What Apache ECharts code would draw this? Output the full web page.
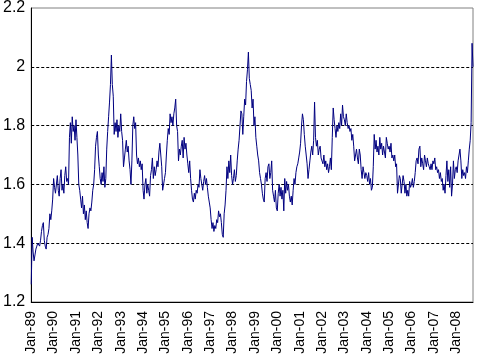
<!DOCTYPE html>
<html>
<head>
<meta charset="utf-8">
<script src="https://cdn.jsdelivr.net/npm/echarts@6/dist/echarts.min.js"></script>
<style>html,body{margin:0;padding:0;background:#fff}#c{width:478px;height:360px}</style>
</head>
<body>
<div id="c"></div>
<script>
// Tick labels on the category axis (one per January)
var yearLabels = ['Jan-89','Jan-90','Jan-91','Jan-92','Jan-93','Jan-94','Jan-95','Jan-96','Jan-97','Jan-98','Jan-99','Jan-00','Jan-01','Jan-02','Jan-03','Jan-04','Jan-05','Jan-06','Jan-07','Jan-08'];
var yTicks = [1.2, 1.4, 1.6, 1.8, 2.0, 2.2];

var v1989 = [1.26,1.42,1.37,1.34,1.36,1.38,1.39,1.40,1.40,1.39,1.41,1.44,1.46,1.47,1.41,1.39,1.38,1.42,1.43,1.45,1.50,1.48,1.51,1.55];
var v1990 = [1.62,1.59,1.57,1.60,1.63,1.58,1.56,1.62,1.65,1.58,1.60,1.57,1.63,1.66,1.61,1.62,1.60,1.76,1.81,1.74,1.83,1.78,1.80,1.75];
var v1991 = [1.82,1.76,1.70,1.60,1.58,1.55,1.52,1.56,1.50,1.53,1.48,1.51,1.47,1.45,1.50,1.52,1.51,1.54,1.58,1.60,1.65,1.73,1.76,1.78];
var v1992 = [1.70,1.66,1.62,1.60,1.64,1.61,1.66,1.59,1.62,1.72,1.78,1.83,1.88,1.94,2.04,1.94,1.90,1.77,1.81,1.78,1.82,1.76,1.80,1.78];
var v1993 = [1.84,1.78,1.75,1.66,1.69,1.72,1.75,1.71,1.73,1.68,1.65,1.60,1.68,1.80,1.83,1.79,1.81,1.70,1.67,1.69,1.66,1.68,1.65,1.67];
var v1994 = [1.58,1.55,1.60,1.62,1.57,1.60,1.58,1.56,1.63,1.65,1.69,1.62,1.66,1.63,1.65,1.68,1.66,1.71,1.74,1.70,1.66,1.58,1.60,1.62];
var v1995 = [1.64,1.70,1.75,1.79,1.77,1.84,1.81,1.83,1.80,1.84,1.86,1.89,1.80,1.78,1.68,1.72,1.70,1.73,1.75,1.69,1.76,1.72,1.74,1.70];
var v1996 = [1.67,1.64,1.68,1.62,1.58,1.55,1.54,1.57,1.55,1.58,1.57,1.60,1.59,1.65,1.62,1.60,1.58,1.61,1.63,1.60,1.62,1.59,1.56,1.54];
var v1997 = [1.52,1.48,1.45,1.47,1.44,1.46,1.45,1.48,1.47,1.51,1.49,1.50,1.47,1.43,1.42,1.50,1.53,1.58,1.66,1.62,1.68,1.64,1.70,1.63];
var v1998 = [1.60,1.62,1.65,1.61,1.63,1.68,1.72,1.75,1.80,1.85,1.84,1.77,1.83,1.89,1.87,1.95,1.99,2.05,1.96,1.94,1.92,1.86,1.89,1.80];
var v1999 = [1.83,1.76,1.73,1.70,1.68,1.64,1.62,1.60,1.57,1.55,1.54,1.62,1.64,1.61,1.66,1.67,1.62,1.64,1.68,1.58,1.56,1.54,1.58,1.52];
var v2000 = [1.51,1.57,1.60,1.56,1.59,1.55,1.58,1.51,1.62,1.57,1.61,1.58,1.60,1.56,1.54,1.56,1.53,1.58,1.62,1.60,1.64,1.66,1.67,1.69];
var v2001 = [1.71,1.74,1.80,1.84,1.82,1.77,1.73,1.70,1.67,1.62,1.65,1.68,1.71,1.73,1.70,1.75,1.88,1.76,1.73,1.75,1.70,1.72,1.73,1.69];
var v2002 = [1.69,1.67,1.70,1.66,1.68,1.65,1.67,1.64,1.66,1.69,1.65,1.76,1.86,1.82,1.79,1.76,1.80,1.78,1.81,1.79,1.84,1.80,1.87,1.83];
var v2003 = [1.82,1.80,1.84,1.81,1.79,1.80,1.78,1.79,1.75,1.77,1.73,1.68,1.70,1.72,1.69,1.67,1.72,1.70,1.65,1.62,1.66,1.64,1.62,1.64];
var v2004 = [1.63,1.61,1.64,1.60,1.62,1.58,1.59,1.66,1.77,1.72,1.75,1.71,1.73,1.70,1.76,1.72,1.74,1.70,1.73,1.71,1.69,1.76,1.74,1.72];
var v2005 = [1.73,1.71,1.74,1.69,1.70,1.68,1.70,1.66,1.67,1.57,1.60,1.63,1.62,1.57,1.60,1.63,1.61,1.57,1.60,1.56,1.58,1.56,1.61,1.59];
var v2006 = [1.60,1.62,1.59,1.61,1.64,1.68,1.69,1.67,1.72,1.73,1.66,1.69,1.67,1.65,1.70,1.68,1.66,1.69,1.67,1.66,1.65,1.67,1.65,1.68];
var v2007 = [1.67,1.69,1.65,1.66,1.64,1.65,1.62,1.64,1.61,1.62,1.58,1.60,1.57,1.63,1.68,1.61,1.65,1.59,1.66,1.56,1.60,1.68,1.62,1.65];
var v2008 = [1.66,1.64,1.68,1.70,1.72,1.68,1.62,1.65,1.63,1.64,1.62,1.66,1.64,1.68,1.72,1.75,1.81,2.08,2.00];

var yearly = [v1989,v1990,v1991,v1992,v1993,v1994,v1995,v1996,v1997,v1998,v1999,v2000,v2001,v2002,v2003,v2004,v2005,v2006,v2007,v2008];
var values = [];
var categories = [];
yearly.forEach(function (arr, yi) {
  arr.forEach(function (v, k) {
    values.push(v);
    categories.push(yi * 24 + k);
  });
});

var chart = echarts.init(document.getElementById('c'), null, {renderer: 'canvas'});
chart.setOption({
  animation: false,
  backgroundColor: '#ffffff',
  grid: {left: 31, right: 5, top: 7, bottom: 58, show: true, borderColor: '#808080', borderWidth: 1, backgroundColor: 'transparent'},
  xAxis: {
    type: 'category',
    data: categories,
    boundaryGap: false,
    axisLine: {show: true, lineStyle: {color: '#000', width: 1}},
    axisTick: {show: false},
    splitLine: {show: false},
    axisLabel: {
      rotate: 90,
      margin: 9,
      color: '#000',
      fontFamily: 'Liberation Sans, Arial, sans-serif',
      fontSize: 14,
      interval: function (idx) { return idx % 24 === 0; },
      formatter: function (val, idx) { return yearLabels[Math.floor(idx / 24)] || ''; }
    }
  },
  yAxis: {
    type: 'value',
    min: yTicks[0],
    max: yTicks[yTicks.length - 1],
    interval: 0.2,
    axisLine: {show: true, lineStyle: {color: '#000', width: 1}},
    axisTick: {show: false},
    axisLabel: {
      margin: 6,
      color: '#000',
      fontFamily: 'Liberation Sans, Arial, sans-serif',
      fontSize: 16,
      formatter: function (v) { return String(Math.round(v * 10) / 10); }
    },
    splitLine: {show: true, lineStyle: {color: ['transparent', '#000', '#000', '#000', '#000', 'transparent'], type: [3, 2], width: 1}}
  },
  series: [{
    type: 'line',
    data: values,
    showSymbol: false,
    symbol: 'none',
    lineStyle: {color: '#000080', width: 1},
    z: 3
  }]
});
</script>
</body>
</html>
